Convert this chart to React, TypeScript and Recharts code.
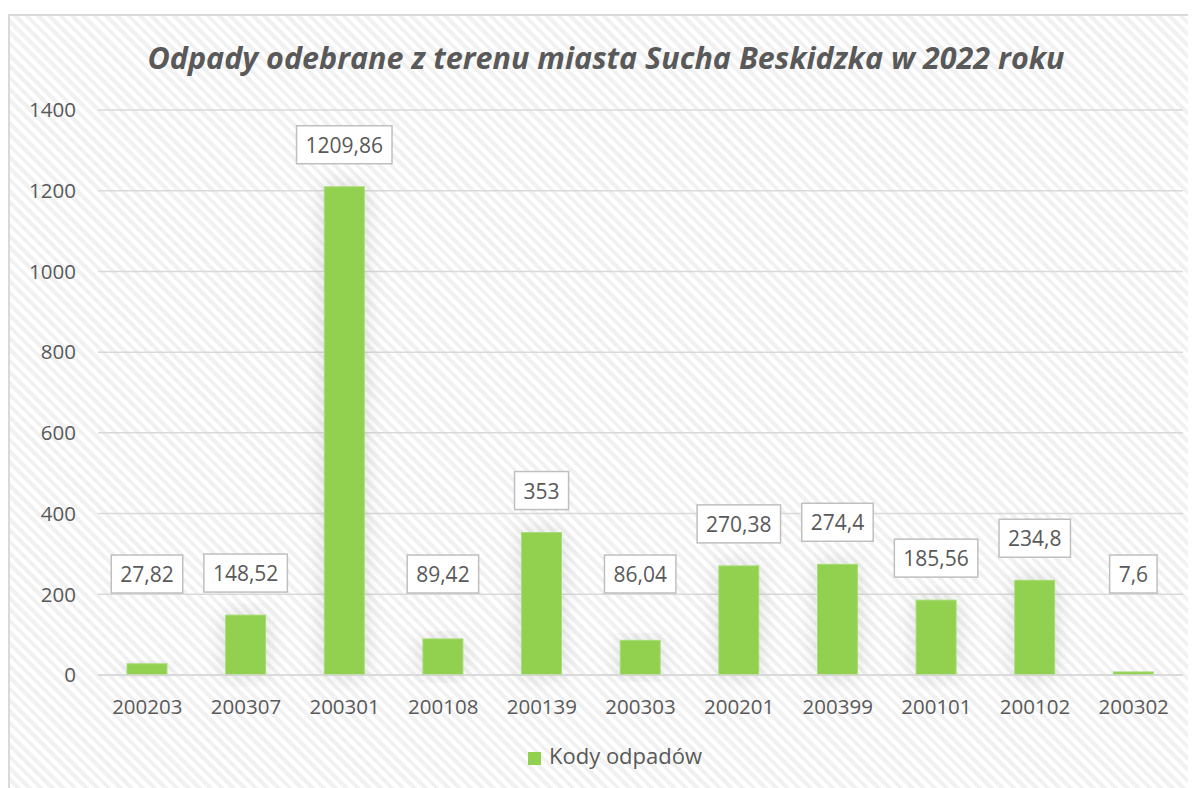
import { BarChart, Bar, XAxis, YAxis, CartesianGrid, Legend, LabelList } from 'recharts'

const codes = ['200203', '200307', '200301', '200108', '200139', '200303', '200201', '200399', '200101', '200102', '200302']
const amounts = [27.82, 148.52, 1209.86, 89.42, 353, 86.04, 270.38, 274.4, 185.56, 234.8, 7.6]
const yTicks = [0, 200, 400, 600, 800, 1000, 1200, 1400]

const data = codes.map((code, i) => ({ code, value: amounts[i] }))

const FONT = '"Open Sans", sans-serif'
const TEXT = '#595959'
const GREEN = '#92D050'

const fmt = (v: number) => String(v).replace('.', ',')

let ctx: CanvasRenderingContext2D | null = null
function measure(text: string) {
  if (!ctx) ctx = document.createElement('canvas').getContext('2d')
  if (!ctx) return text.length * 11
  ctx.font = `21px ${FONT}`
  return ctx.measureText(text).width
}

function BoxLabel(props: any) {
  const { x, y, width, value } = props
  const text = fmt(value)
  const w = measure(text) + 18
  const h = 38
  const cx = x + width / 2
  const cy = Math.min(y - 42, 560)
  return (
    <g>
      <rect x={cx - w / 2} y={cy - h / 2} width={w} height={h} fill="#fff" stroke="#bfbfbf" strokeWidth={1.5} />
      <text x={cx} y={cy} textAnchor="middle" dominantBaseline="central" fill={TEXT} fontSize={21} fontFamily={FONT}>
        {text}
      </text>
    </g>
  )
}

function ShadowBar(props: any) {
  const { x, y, width, height } = props
  return (
    <rect x={x} y={y} width={width} height={Math.max(height, 0)} fill={GREEN} stroke="#a8dc78" strokeWidth={1} filter="url(#barGlow)" />
  )
}

export default function App() {
  return (
    <div
      style={{
        position: 'relative',
        marginTop: 6,
        width: 1188,
        height: 774,
        boxSizing: 'border-box',
        borderTop: '2px solid #d9d9d9',
        borderLeft: '2px solid #d9d9d9',
        background: 'repeating-linear-gradient(45deg, #ffffff 0px, #ffffff 4px, #f1f1f1 4px, #f1f1f1 8px)',
        fontFamily: FONT,
      }}
    >
      <div
        style={{
          position: 'absolute',
          top: 20,
          left: 0,
          width: 1192,
          textAlign: 'center',
          fontSize: 30.5,
          fontWeight: 700,
          fontStyle: 'italic',
          color: TEXT,
        }}
      >
        Odpady odebrane z terenu miasta Sucha Beskidzka w 2022 roku
      </div>
      <div style={{ position: 'absolute', left: -2, top: -2 }}>
        <BarChart width={1188} height={774} data={data} margin={{ top: 96, right: 13, bottom: 53, left: 30 }}>
          <defs>
            <filter id="barGlow" x="-80%" y="-20%" width="260%" height="140%">
              <feDropShadow dx={0} dy={0} stdDeviation={10} floodColor="#000" floodOpacity={0.13} />
            </filter>
          </defs>
          <CartesianGrid vertical={false} stroke="#d9d9d9" strokeWidth={1.5} />
          <XAxis
            dataKey="code"
            axisLine={{ stroke: '#d9d9d9', strokeWidth: 1.5 }}
            tickLine={false}
            tickSize={0}
            tickMargin={24}
            interval={0}
            tick={{ fill: TEXT, fontSize: 20.5, fontFamily: FONT }}
          />
          <YAxis
            width={60}
            domain={[0, 1400]}
            ticks={yTicks}
            axisLine={false}
            tickLine={false}
            tickSize={0}
            tickMargin={22}
            tick={{ fill: TEXT, fontSize: 20.5, fontFamily: FONT }}
          />
          <Legend
            verticalAlign="bottom"
            iconType="square"
            iconSize={13}
            wrapperStyle={{ top: 726, left: 0, width: 1224, fontSize: 22, fontFamily: FONT }}
            formatter={(v: string) => <span style={{ color: TEXT, marginLeft: 4 }}>{v}</span>}
          />
          <Bar dataKey="value" name="Kody odpadów" fill={GREEN} barSize={40} shape={ShadowBar} isAnimationActive={false}>
            <LabelList dataKey="value" content={BoxLabel} />
          </Bar>
        </BarChart>
      </div>
    </div>
  )
}
